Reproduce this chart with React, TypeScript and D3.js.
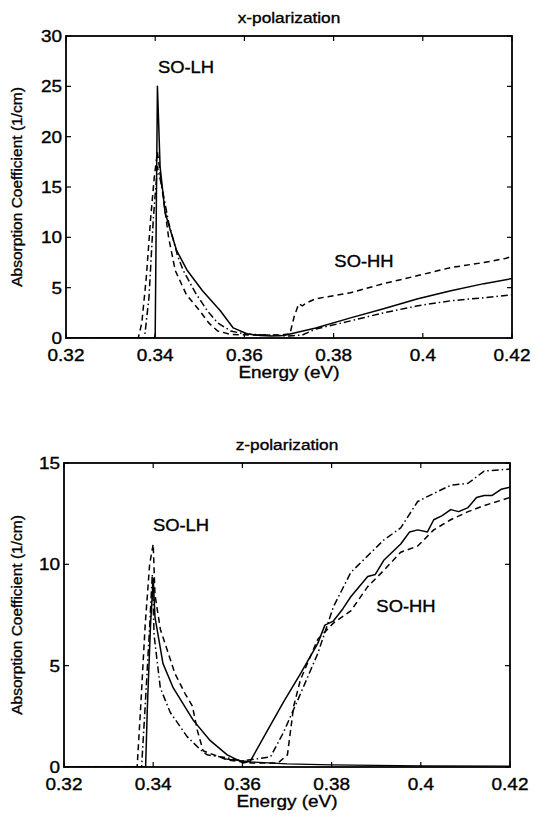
import React from "react";
import * as d3 from "d3";

type Pt = [number, number];

// ---------- shared axis data ----------
const xTicks = [0.32, 0.34, 0.36, 0.38, 0.4, 0.42];
const xTickLabels = ["0.32", "0.34", "0.36", "0.38", "0.4", "0.42"];
const yTicksX = [0, 5, 10, 15, 20, 25, 30];
const yTicksZ = [0, 5, 10, 15];

// ---------- x-polarization ----------
const xSolid: Pt[] = [
  [0.32, 0], [0.3398, 0], [0.3400, 0.3], [0.3405, 25], [0.3411, 17], [0.3422, 12.5],
  [0.3434, 10.7], [0.3448, 8.7], [0.3472, 6.7], [0.3506, 4.7], [0.3546, 2.7],
  [0.3575, 1.0], [0.3607, 0.4], [0.3636, 0.25], [0.366, 0.2], [0.3688, 0.25],
  [0.376, 1.0], [0.3838, 2.0], [0.3912, 2.9], [0.3989, 3.9], [0.4063, 4.7],
  [0.4137, 5.4], [0.42, 5.9],
];
const xDashed: Pt[] = [
  [0.32, 0], [0.3362, 0], [0.337, 1.5], [0.338, 6], [0.339, 12], [0.3398, 16],
  [0.3405, 18.5], [0.3415, 15], [0.343, 10], [0.3445, 6.7], [0.347, 4.3],
  [0.35, 2.7], [0.352, 1.5], [0.354, 0.7], [0.357, 0.35], [0.362, 0.3],
  [0.368, 0.3], [0.3702, 0.4], [0.3712, 2.2], [0.3722, 3.4], [0.373, 3.2],
  [0.374, 3.5], [0.376, 3.9], [0.3838, 4.5], [0.3912, 5.4], [0.3989, 6.2],
  [0.4063, 7.0], [0.4137, 7.5], [0.4185, 7.9], [0.42, 8.1],
];
const xDashDot: Pt[] = [
  [0.32, 0], [0.3376, 0], [0.3386, 4], [0.3396, 12], [0.3405, 17], [0.3415, 15],
  [0.343, 11.5], [0.345, 8.2], [0.3463, 6.7], [0.349, 4.5], [0.3517, 2.7],
  [0.354, 1.5], [0.3569, 0.7], [0.36, 0.4], [0.365, 0.3], [0.37, 0.2],
  [0.373, 0.3], [0.376, 0.9], [0.3838, 1.7], [0.3912, 2.5], [0.3989, 3.2],
  [0.4063, 3.7], [0.4137, 4.0], [0.42, 4.3],
];

// ---------- z-polarization ----------
const zSolid: Pt[] = [
  [0.32, 0], [0.3383, 0], [0.3387, 3], [0.3394, 7], [0.34, 9.3], [0.3404, 7.4],
  [0.3422, 5.1], [0.3445, 3.9], [0.349, 2.3], [0.3528, 1.3], [0.3566, 0.6],
  [0.3602, 0.2], [0.3618, 0.3], [0.3656, 1.8], [0.3692, 3.2], [0.373, 4.6],
  [0.3769, 6.1], [0.3785, 7.0], [0.3804, 7.2], [0.3825, 7.8], [0.3843, 8.4],
  [0.3881, 9.4], [0.3898, 9.5], [0.3917, 10.2], [0.3955, 11.0], [0.3975, 11.6],
  [0.3993, 11.7], [0.4015, 11.6], [0.4029, 12.2], [0.4048, 12.4], [0.4067, 12.7],
  [0.4085, 12.6], [0.4106, 12.8], [0.4125, 13.3], [0.4142, 13.4], [0.416, 13.4],
  [0.418, 13.7], [0.42, 13.8],
];
const zDashed: Pt[] = [
  [0.32, 0], [0.3364, 0], [0.3372, 3], [0.3382, 7], [0.3392, 10], [0.34, 11],
  [0.3404, 8.5], [0.3416, 6.8], [0.3449, 4.6], [0.3472, 3.6], [0.3488, 3.0],
  [0.3499, 1.8], [0.3512, 0.8], [0.3566, 0.35], [0.362, 0.2], [0.368, 0.2],
  [0.3701, 0.6], [0.3715, 3.0], [0.373, 4.3], [0.3769, 6.3], [0.3804, 7.1],
  [0.3843, 7.7], [0.3881, 8.9], [0.3917, 9.7], [0.3955, 10.6], [0.3993, 10.9],
  [0.4029, 11.7], [0.4067, 12.2], [0.4106, 12.6], [0.4142, 12.9], [0.42, 13.3],
];
const zDashDot: Pt[] = [
  [0.32, 0], [0.3374, 0], [0.3382, 3], [0.3391, 6.5], [0.3398, 9.5], [0.3402, 6.5],
  [0.3416, 3.9], [0.3438, 2.7], [0.3476, 1.5], [0.3506, 0.85], [0.3521, 0.6],
  [0.3566, 0.45], [0.36, 0.3], [0.3663, 0.5], [0.3692, 1.7], [0.373, 3.6],
  [0.3769, 5.6], [0.3804, 7.9], [0.3843, 9.6], [0.3917, 11.2], [0.3955, 11.8],
  [0.3993, 13.1], [0.4029, 13.5], [0.4067, 13.9], [0.4106, 14.0], [0.4142, 14.6],
  [0.42, 14.7],
];
const zTail: Pt[] = [
  [0.356, 0.4], [0.362, 0.25], [0.37, 0.15], [0.38, 0.1], [0.40, 0.06], [0.42, 0.05],
];

const FONT = "'Liberation Sans', Arial, Helvetica, sans-serif";
const SX = 1.15;

function T(props: {
  x: number;
  y: number;
  size: number;
  anchor?: "start" | "middle" | "end";
  rotate?: boolean;
  children: React.ReactNode;
}) {
  const tr = props.rotate
    ? `translate(${props.x},${props.y}) rotate(-90)`
    : `translate(${props.x},${props.y}) scale(${SX},1)`;
  return (
    <text
      transform={tr}
      textAnchor={props.anchor ?? "middle"}
      fontSize={props.size}
      fontFamily={FONT}
      fill="#000"
      stroke="#000"
      strokeWidth={0.35}
    >
      {props.children}
    </text>
  );
}

interface Series {
  data: Pt[];
  dash?: string;
  width?: number;
}

interface PanelProps {
  title: string;
  left: number;
  right: number;
  top: number;
  bottom: number;
  yMax: number;
  yTicks: number[];
  series: Series[];
  labels: { text: string; x: number; y: number }[];
}

function Panel(p: PanelProps) {
  const x = d3.scaleLinear().domain([0.32, 0.42]).range([p.left, p.right]);
  const y = d3.scaleLinear().domain([0, p.yMax]).range([p.bottom, p.top]);
  const line = d3
    .line<Pt>()
    .x((d) => x(d[0]))
    .y((d) => y(d[1]));
  const tl = 5;
  const cx = (p.left + p.right) / 2;
  const cy = (p.top + p.bottom) / 2;
  return (
    <g>
      <T x={cx} y={p.top - 13} size={15}>
        {p.title}
      </T>
      <defs>
        <clipPath id={"clip-" + p.title}>
          <rect x={p.left} y={p.top} width={p.right - p.left} height={p.bottom - p.top} />
        </clipPath>
      </defs>
      <g clipPath={`url(#clip-${p.title})`}>
        {p.series.map((s, i) => (
          <path
            key={i}
            d={line(s.data) || ""}
            fill="none"
            stroke="#000"
            strokeWidth={s.width ?? 1.5}
            strokeDasharray={s.dash}
            strokeLinejoin="round"
          />
        ))}
      </g>
      <rect
        x={p.left}
        y={p.top}
        width={p.right - p.left}
        height={p.bottom - p.top}
        fill="none"
        stroke="#000"
        strokeWidth={1.8}
      />
      {xTicks.map((t, i) => (
        <g key={"xt" + i}>
          <line x1={x(t)} x2={x(t)} y1={p.bottom} y2={p.bottom - tl} stroke="#000" strokeWidth={1.2} />
          <line x1={x(t)} x2={x(t)} y1={p.top} y2={p.top + tl} stroke="#000" strokeWidth={1.2} />
          <T x={x(t)} y={p.bottom + 23} size={16.5}>
            {xTickLabels[i]}
          </T>
        </g>
      ))}
      {p.yTicks.map((t, i) => (
        <g key={"yt" + i}>
          <line x1={p.left} x2={p.left + tl} y1={y(t)} y2={y(t)} stroke="#000" strokeWidth={1.2} />
          <line x1={p.right} x2={p.right - tl} y1={y(t)} y2={y(t)} stroke="#000" strokeWidth={1.2} />
          <T x={p.left - 4} y={y(t) + 6} size={16.5} anchor="end">
            {t}
          </T>
        </g>
      ))}
      <T x={cx} y={p.bottom + 40} size={16.5}>
        Energy (eV)
      </T>
      <T x={22} y={cy} size={15.5} rotate>
        Absorption Coefficient (1/cm)
      </T>
      {p.labels.map((l, i) => (
        <T key={"l" + i} x={l.x} y={l.y} size={16}>
          {l.text}
        </T>
      ))}
    </g>
  );
}

const DASH = "6,4";
const DASHDOT = "7,3,1.5,3";

export default function App() {
  return (
    <svg width={540} height={819} style={{ position: "absolute", left: 0, top: 0, background: "#fff" }}>
      <rect width={540} height={819} fill="#fff" />
      <Panel
        title="x-polarization"
        left={66}
        right={512}
        top={36}
        bottom={338}
        yMax={30}
        yTicks={yTicksX}
        series={[
          { data: xSolid },
          { data: xDashed, dash: DASH },
          { data: xDashDot, dash: DASHDOT },
        ]}
        labels={[
          { text: "SO-LH", x: 186, y: 73 },
          { text: "SO-HH", x: 364, y: 267 },
        ]}
      />
      <Panel
        title="z-polarization"
        left={64}
        right={510}
        top={463}
        bottom={767}
        yMax={15}
        yTicks={yTicksZ}
        series={[
          { data: zSolid },
          { data: zDashed, dash: DASH },
          { data: zDashDot, dash: DASHDOT },
          { data: zTail, width: 1.2 },
        ]}
        labels={[
          { text: "SO-LH", x: 181, y: 531 },
          { text: "SO-HH", x: 406, y: 612 },
        ]}
      />
    </svg>
  );
}
